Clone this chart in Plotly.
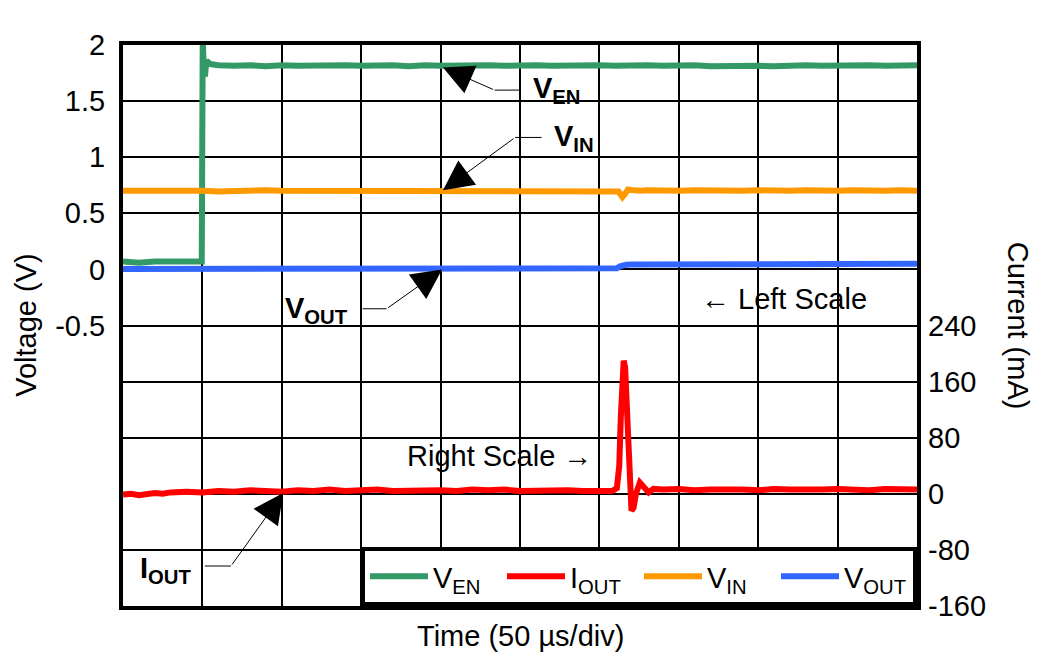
import plotly.graph_objects as go

# ---------------- data ----------------
# time in microseconds (50 us / div, 10 div)
t_en = [0, 10, 20, 30, 40, 49.6, 50.2, 51.0, 51.6, 52.5, 55,
        60, 70, 80, 90, 100, 110, 120, 130, 140, 150,
        160, 170, 180, 190, 200, 210, 220, 230, 240, 250,
        260, 270, 280, 290, 300, 310, 320, 330, 340, 350,
        360, 370, 380, 390, 400, 410, 420, 430, 440, 450,
        460, 470, 480, 490, 500]
v_en = [0.07, 0.06, 0.07, 0.065, 0.07, 0.07, 2.05, 1.75, 1.72, 1.86, 1.83,
        1.82, 1.815, 1.82, 1.81, 1.82, 1.815, 1.82, 1.825, 1.82, 1.815,
        1.82, 1.82, 1.81, 1.82, 1.815, 1.82, 1.825, 1.82, 1.815, 1.82,
        1.82, 1.815, 1.82, 1.825, 1.82, 1.815, 1.82, 1.82, 1.815, 1.82,
        1.82, 1.81, 1.815, 1.82, 1.815, 1.81, 1.82, 1.82, 1.815, 1.82,
        1.825, 1.82, 1.815, 1.82, 1.82]

t_in = [0, 10, 20, 30, 40, 50, 60, 70, 80, 90, 100,
        110, 120, 130, 140, 150, 160, 170, 180, 190, 200,
        210, 220, 230, 240, 250, 260, 270, 280, 290, 300,
        305, 310, 312, 313.5, 314.5, 316, 318, 320, 323, 326, 330,
        340, 350, 360, 370, 380, 390, 400, 410, 420, 430,
        440, 450, 460, 470, 480, 490, 500]
v_in = [0.70, 0.695, 0.70, 0.70, 0.705, 0.70, 0.695, 0.70, 0.70, 0.705, 0.70,
        0.70, 0.695, 0.70, 0.705, 0.70, 0.70, 0.695, 0.70, 0.70, 0.705,
        0.70, 0.70, 0.695, 0.70, 0.705, 0.70, 0.70, 0.695, 0.70, 0.70,
        0.70, 0.70, 0.695, 0.665, 0.645, 0.67, 0.712, 0.708, 0.70, 0.70, 0.705,
        0.70, 0.70, 0.705, 0.70, 0.70, 0.70, 0.705, 0.70, 0.70, 0.705,
        0.70, 0.70, 0.705, 0.70, 0.70, 0.705, 0.70]

t_out = [0, 50, 100, 150, 200, 250, 300, 308, 311, 313, 315, 317, 320,
         340, 360, 380, 400, 420, 440, 460, 480, 500]
v_out = [0.003, 0.003, 0.003, 0.003, 0.003, 0.003, 0.004, 0.005, 0.01, 0.028, 0.038, 0.042, 0.043,
         0.044, 0.044, 0.045, 0.047, 0.046, 0.047, 0.048, 0.049, 0.05]

t_iout = [0, 5, 10, 15, 20, 25, 30, 40, 50, 60, 70, 80, 90, 100,
          110, 120, 130, 140, 150, 160, 170, 180, 190, 200,
          210, 220, 230, 240, 250, 260, 270, 280, 290, 300,
          305, 308, 311, 312.5, 313.5, 314.5, 315.3, 316.2, 317.2, 318.2,
          319.2, 320.2, 321.5, 323, 325.5, 328, 331, 334,
          340, 350, 360, 370, 380, 390, 400, 410, 420, 430,
          440, 450, 460, 470, 480, 490, 500]
i_out = [-1, 0, -2, 0, 1, 0, 2, 3, 2, 4, 3, 5, 4, 3,
         5, 4, 6, 4, 5, 6, 4, 5, 6, 5,
         4, 6, 5, 6, 4, 5, 6, 5, 4, 5,
         5, 4, 8, 40, 110, 170, 190, 180, 120, 40,
         -5, -24, -20, 0, 16, 8, 2, 7,
         6, 7, 5, 6, 7, 6, 5, 7, 6, 5,
         6, 7, 6, 5, 7, 6, 6]

# axis ticks
v_ticks = [-0.5, 0, 0.5, 1, 1.5, 2]
v_text = ["-0.5", "0", "0.5", "1", "1.5", "2"]
v_minor = [-3, -2.5, -2, -1.5, -1]
i_ticks = [-160, -80, 0, 80, 160, 240]
i_text = ["-160", "-80", "0", "80", "160", "240"]
t_ticks = [0, 50, 100, 150, 200, 250, 300, 350, 400, 450, 500]

FONT = "Liberation Sans, Arial, sans-serif"
FS = 29

fig = go.Figure()
fig.add_trace(go.Scatter(x=t_en, y=v_en, mode="lines", name="V<sub>EN</sub>",
                         line=dict(color="#339966", width=6), yaxis="y"))
fig.add_trace(go.Scatter(x=t_iout, y=i_out, mode="lines", name="I<sub>OUT</sub>",
                         line=dict(color="#FF0000", width=6), yaxis="y2"))
fig.add_trace(go.Scatter(x=t_in, y=v_in, mode="lines", name="V<sub>IN</sub>",
                         line=dict(color="#FF9900", width=6), yaxis="y"))
fig.add_trace(go.Scatter(x=t_out, y=v_out, mode="lines", name="V<sub>OUT</sub>",
                         line=dict(color="#3366FF", width=6), yaxis="y"))

annotations = []
shapes = []

def callout(label, tip, elbow, end, text_pos, xanchor, yref="y"):
    # arrow from elbow to tip
    annotations.append(dict(x=tip[0], y=tip[1], xref="x", yref=yref,
                            ax=elbow[0], ay=elbow[1], axref="x", ayref=yref,
                            text="", showarrow=True, arrowhead=2, arrowsize=6,
                            arrowwidth=1, arrowcolor="black", standoff=0))
    shapes.append(dict(type="line", xref="x", yref=yref,
                       x0=elbow[0], y0=elbow[1], x1=end, y1=elbow[1],
                       line=dict(color="black", width=1)))
    annotations.append(dict(x=text_pos[0], y=text_pos[1], xref="x", yref=yref,
                            text=label, showarrow=False, xanchor=xanchor,
                            yanchor="middle",
                            font=dict(family=FONT, size=FS, color="black")))

callout("<b>V<sub>EN</sub></b>", (201.5, 1.80), (234, 1.598), 250.6, (257, 1.60), "left")
callout("<b>V<sub>IN</sub></b>", (201.5, 0.705), (246.9, 1.176), 263.6, (270, 1.17), "left")
callout("<b>V<sub>OUT</sub></b>", (200.9, 0.0), (166, -0.351), 150.9, (143, -0.36), "right")
callout("<b>I<sub>OUT</sub></b>", (100.9, 1), (68, -103), 51.6, (44, -108), "right", yref="y2")

annotations.append(dict(x=416, y=-0.26, xref="x", yref="y", text="\u2190 Left Scale",
                        showarrow=False, font=dict(family=FONT, size=FS, color="black")))
annotations.append(dict(x=237, y=54, xref="x", yref="y2", text="Right Scale \u2192",
                        showarrow=False, font=dict(family=FONT, size=FS, color="black")))

annotations.append(dict(x=-0.123, y=0.5, xref="paper", yref="paper", text="Voltage (V)",
                        textangle=-90, showarrow=False, xanchor="center", yanchor="middle",
                        font=dict(family=FONT, size=FS, color="black")))
annotations.append(dict(x=1.128, y=0.5, xref="paper", yref="paper", text="Current (mA)",
                        textangle=90, showarrow=False, xanchor="center", yanchor="middle",
                        font=dict(family=FONT, size=FS, color="black")))
annotations.append(dict(x=0.5, y=-0.054, xref="paper", yref="paper", text="Time (50 \u00b5s/div)",
                        showarrow=False, xanchor="center", yanchor="middle",
                        font=dict(family=FONT, size=FS, color="black")))

fig.update_layout(
    width=1040, height=660,
    margin=dict(l=115, r=131, t=37, b=62),
    paper_bgcolor="white", plot_bgcolor="white",
    font=dict(family=FONT, size=FS, color="black"),
    showlegend=True,
    legend=dict(orientation="h", x=1, xanchor="right", y=0, yanchor="bottom",
                bgcolor="white", bordercolor="black", borderwidth=4,
                font=dict(family=FONT, size=FS, color="black"),
                entrywidth=64, entrywidthmode="pixels", itemwidth=58,
                traceorder="normal"),
    xaxis=dict(range=[0, 500], tickvals=t_ticks, showticklabels=False,
               showgrid=True, gridcolor="black", gridwidth=1.5,
               showline=True, linecolor="black", linewidth=4, mirror=True,
               ticks="", zeroline=False, automargin=False),
    yaxis=dict(range=[-3, 2], tickvals=v_ticks, ticktext=v_text,
               showgrid=True, gridcolor="black", gridwidth=1.5,
               minor=dict(tickvals=v_minor, showgrid=True, gridcolor="black",
                          gridwidth=1.5, ticks=""),
               showline=True, linecolor="black", linewidth=4, mirror=True,
               ticks="", zeroline=False, ticklabelstandoff=8, automargin=False,
               tickfont=dict(family=FONT, size=FS, color="black")),
    yaxis2=dict(range=[-160, 640], tickvals=i_ticks, ticktext=i_text,
                overlaying="y", side="right", showgrid=False, zeroline=False,
                ticks="", showline=False, ticklabelstandoff=10, automargin=False,
                tickfont=dict(family=FONT, size=FS, color="black")),
    annotations=annotations,
    shapes=shapes,
)

fig.write_html("out.html")
